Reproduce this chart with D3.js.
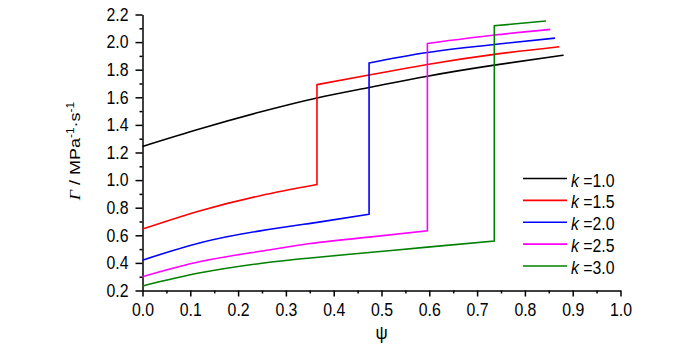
<!DOCTYPE html>
<html>
<head>
<meta charset="utf-8">
<script src="https://cdn.jsdelivr.net/npm/d3@7"></script>
<style>
body { margin: 0; background: #fff; }
svg text { font-family: "Liberation Sans", Arial, sans-serif; }
</style>
</head>
<body>
<svg width="700" height="348"></svg>
<script>
// series labels and colours
const kLabels = ["1.0", "1.5", "2.0", "2.5", "3.0"];
const colors = ["#000000", "#ff0000", "#0000ff", "#ff00ff", "#008000"];

// lower branch (before the jump)
const psiLow = [
  [0, 0.121, 0.246, 0.365, 0.474, 0.596, 0.736, 0.881],
  [0, 0.121, 0.246, 0.365],
  [0, 0.121, 0.246, 0.372, 0.474],
  [0, 0.121, 0.246, 0.351, 0.474, 0.596],
  [0, 0.121, 0.246, 0.351, 0.474, 0.596, 0.736]
];
const gammaLow = [
  [1.244, 1.372, 1.493, 1.595, 1.671, 1.753, 1.833, 1.905],
  [0.645, 0.778, 0.887, 0.968],
  [0.420, 0.546, 0.632, 0.697, 0.752],
  [0.300, 0.410, 0.484, 0.540, 0.587, 0.632],
  [0.233, 0.328, 0.396, 0.436, 0.475, 0.514, 0.558]
];
// upper branch (after the jump), k=1.0 has none
const psiHigh = [
  [],
  [0.365, 0.474, 0.596, 0.736, 0.872],
  [0.474, 0.596, 0.736, 0.863],
  [0.596, 0.736, 0.853],
  [0.736, 0.844]
];
const gammaHigh = [
  [],
  [1.692, 1.761, 1.838, 1.911, 1.966],
  [1.849, 1.925, 1.983, 2.029],
  [1.990, 2.051, 2.092],
  [2.118, 2.153]
];

const xTicks = d3.range(0, 1.0001, 0.1);
const xMinor = d3.range(0.05, 1, 0.1);
const yTicks = d3.range(0.2, 2.2001, 0.2);
const yMinor = d3.range(0.3, 2.2, 0.2);

const svg = d3.select("svg");
const x = d3.scaleLinear().domain([0, 1]).range([142.5, 620.5]);
const y = d3.scaleLinear().domain([0.2, 2.2]).range([290.5, 14.5]);
const squeeze = 0.88; // tick text in the picture is a bit narrow

// minor ticks
svg.append("g")
  .attr("transform", "translate(0," + y.range()[0] + ")")
  .call(d3.axisBottom(x).tickValues(xMinor).tickSize(3).tickFormat(""))
  .call(g => g.select(".domain").remove());
svg.append("g")
  .attr("transform", "translate(" + x.range()[0] + ",0)")
  .call(d3.axisLeft(y).tickValues(yMinor).tickSize(3).tickFormat(""))
  .call(g => g.select(".domain").remove());

// major axes
const gx = svg.append("g")
  .attr("transform", "translate(0," + y.range()[0] + ")")
  .call(d3.axisBottom(x).tickValues(xTicks).tickSize(6).tickSizeOuter(0)
    .tickPadding(7).tickFormat(d3.format(".1f")));
gx.attr("font-size", 18).attr("font-family", null);
gx.selectAll("text").attr("transform", "scale(" + squeeze + ",1)");

const gy = svg.append("g")
  .attr("transform", "translate(" + x.range()[0] + ",0)")
  .call(d3.axisLeft(y).tickValues(yTicks).tickSize(7).tickSizeOuter(0)
    .tickPadding(7).tickFormat(d3.format(".1f")));
gy.attr("font-size", 18).attr("font-family", null);
gy.selectAll("text")
  .attr("x", -14 / squeeze)
  .attr("transform", "scale(" + squeeze + ",1)");

svg.selectAll(".domain, .tick line").attr("stroke", "#000").attr("stroke-width", 1.5);

// axis titles
svg.append("text")
  .attr("transform", "translate(" + x(0.5) + ",339) scale(0.9,1)")
  .attr("text-anchor", "middle")
  .attr("font-size", 19)
  .text("\u03c8");

const yt = svg.append("text")
  .attr("transform", "translate(80,151) scale(0.85,1) rotate(-90)")
  .attr("text-anchor", "middle")
  .attr("font-size", 18);
yt.append("tspan").attr("font-style", "italic").attr("font-family", "Liberation Serif").text("\u0393");
yt.append("tspan").text(" / MPa");
yt.append("tspan").attr("dy", -7).attr("font-size", 12).text("-1");
yt.append("tspan").attr("dy", 7).text("\u00b7s");
yt.append("tspan").attr("dy", -7).attr("font-size", 12).text("-1");

// curves
const line = d3.line()
  .x(d => x(d[0]))
  .y(d => y(d[1]))
  .curve(d3.curveNatural);

kLabels.forEach((k, i) => {
  let d = line(d3.zip(psiLow[i], gammaLow[i]));
  if (psiHigh[i].length) {
    d += line(d3.zip(psiHigh[i], gammaHigh[i])).replace(/^M/, "L");
  }
  svg.append("path")
    .attr("d", d)
    .attr("fill", "none")
    .attr("stroke", colors[i])
    .attr("stroke-width", 1.6)
    .attr("stroke-linejoin", "miter");
});

// legend
const ly = d3.scalePoint().domain(kLabels).range([178.5, 266]);
const legend = svg.append("g");
kLabels.forEach((k, i) => {
  legend.append("line")
    .attr("x1", 523).attr("x2", 567)
    .attr("y1", ly(k)).attr("y2", ly(k))
    .attr("stroke", colors[i]).attr("stroke-width", 1.6);
  const t = legend.append("text")
    .attr("transform", "translate(571," + (ly(k) + 8) + ") scale(" + squeeze + ",1)")
    .attr("font-size", 18);
  t.append("tspan").attr("font-style", "italic").text("k");
  t.append("tspan").text(" =" + k);
});
</script>
</body>
</html>
